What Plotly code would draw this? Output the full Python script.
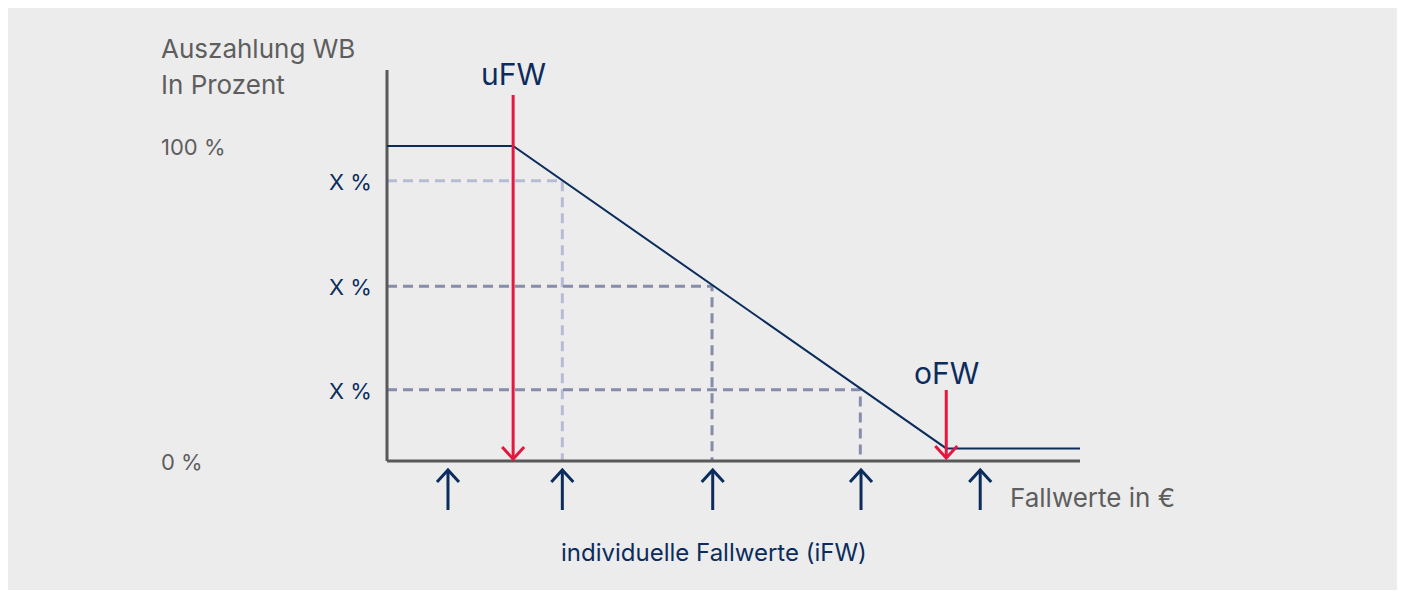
import plotly.graph_objects as go

# ---------------- data ----------------
curve_x = [0, 18.2, 80.7, 100]          # payout curve: start, uFW, oFW, end of axis
curve_y = [100, 100, 4, 4]              # percent paid out
ufw_x = 18.2
ofw_x = 80.7
guide_x = [25.3, 46.9, 68.3]            # individual case values with guide lines
guide_y = [89.0, 55.5, 22.6]            # their payout percentages ("X %")
ifw_x = [8.8, 25.3, 47.0, 68.4, 85.6]   # individual case value markers (iFW)
y_labels = ["100 %", "0 %"]
y_label_vals = [100, 0]
guide_label = "X %"

# ---------------- layout constants (page pixels) ----------------
PAGE = 8                   # body margin of the page
W, H = 1389, 582
OX, OY = 387, 461          # page pixel position of the origin
SX, SY = 6.93, 3.15        # pixels per data unit

def ux(px):
    return px / SX
def uy(px):
    return px / SY
def px_x(px):
    return (px - OX) / SX
def px_y(py):
    return (OY - py) / SY

NAVY = "#0b2c5c"
RED = "#e4173e"
GRAY_TXT = "#5e5e5e"
AXIS = "#595959"
PANEL = "#ececec"
GUIDE_LIGHT = "#b6bbd4"
GUIDE_DARK = "#878cab"
FONT = "Inter"

fig = go.Figure()

def seg(xs, ys, color, width, dash=None):
    fig.add_trace(go.Scatter(x=xs, y=ys, mode="lines",
                             line=dict(color=color, width=width, dash=dash),
                             hoverinfo="skip", showlegend=False))

# guide lines (dashed)
for i, (gx, gy) in enumerate(zip(guide_x, guide_y)):
    col = GUIDE_LIGHT if i == 0 else GUIDE_DARK
    seg([0, gx, gx], [gy, gy, 0], col, 3, "10px,6px")

# axes
seg([0, 0], [0, px_y(70)], AXIS, 3)
seg([0, 100], [0, 0], AXIS, 3)

# payout curve
seg(curve_x, curve_y, NAVY, 2)

# red arrows uFW / oFW
hw, hh = ux(11), uy(12)
def down_arrow(x, top, tip, color, width):
    seg([x, x], [top, tip], color, width)
    seg([x - hw, x, x + hw], [tip + hh, tip, tip + hh], color, width)

down_arrow(ufw_x, px_y(95), px_y(459), RED, 3)
down_arrow(ofw_x, px_y(390), px_y(458), RED, 3)

# iFW up arrows below the axis
ax_top, ax_bot = px_y(470), px_y(510)
hw2, hh2 = ux(11), uy(12)
for x in ifw_x:
    seg([x, x], [ax_top, ax_bot], NAVY, 3)
    seg([x - hw2, x, x + hw2], [ax_top - hh2, ax_top, ax_top - hh2], NAVY, 3)

# ---------------- text ----------------
ann = []
def text(t, x, y, size, color, xanchor="left", xshift=0, yshift=0):
    ann.append(dict(text=t, x=x, y=y, xref="x", yref="y", xshift=xshift, yshift=yshift,
                    showarrow=False, xanchor=xanchor, yanchor="middle",
                    font=dict(family=FONT, size=size, color=color)))

text("Auszahlung WB", px_x(159), px_y(48), 26, GRAY_TXT)
text("In Prozent", px_x(159), px_y(84), 26, GRAY_TXT)
for lab, v in zip(y_labels, y_label_vals):
    text(lab, px_x(159), v, 22, GRAY_TXT, yshift=-1)
for gy in guide_y:
    text(guide_label, 0, gy, 22, NAVY, xanchor="right", xshift=-13, yshift=-1)
text("uFW", ufw_x, px_y(74), 30, NAVY, xanchor="center")
text("oFW", ofw_x, px_y(373), 30, NAVY, xanchor="center")
text("Fallwerte in €", px_x(1008), px_y(497), 26, GRAY_TXT)
text("individuelle Fallwerte (iFW)", px_x(714), px_y(552), 24, NAVY, xanchor="center")

fig.update_layout(
    width=W, height=H,
    margin=dict(l=0, r=0, t=0, b=0),
    paper_bgcolor=PANEL, plot_bgcolor=PANEL,
    xaxis=dict(range=[px_x(PAGE), px_x(PAGE + W)], visible=False, fixedrange=True),
    yaxis=dict(range=[px_y(PAGE + H), px_y(PAGE)], visible=False, fixedrange=True),
    annotations=ann,
    showlegend=False,
)

fig.write_html("out.html")
